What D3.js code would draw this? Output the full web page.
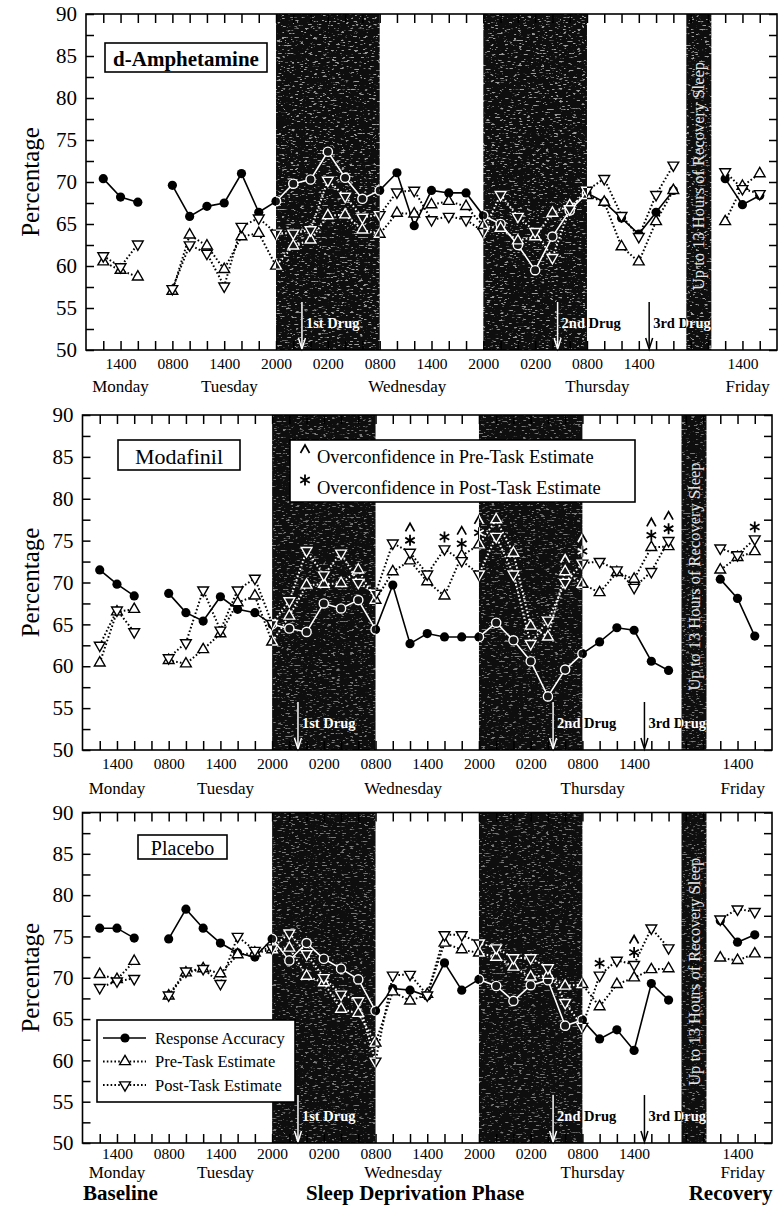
<!DOCTYPE html>
<html>
<head>
<meta charset="utf-8">
<script src="https://cdn.jsdelivr.net/npm/d3@7/dist/d3.min.js"></script>
<style>
body{margin:0;background:#fff;}
text{font-family:"Liberation Serif","Times New Roman",serif;}
</style>
</head>
<body>
<script>
(function(){

//test session slots along the x axis (2 hour steps, baseline nights left out)
var slots = [1,2,3,5,6,7,8,9,10,11,12,13,14,15,16,17,18,19,20,21,22,23,24,25,26,27,28,29,30,31,32,33,34,37,38,39];

//clock tick labels
var tickSlots = [2,5,8,11,14,17,20,23,26,29,32,38];
var tickText = ["1400","0800","1400","2000","0200","0800","1400","2000","0200","0800","1400","1400"];

//day labels
var dayNames = ["Monday","Tuesday","Wednesday","Thursday","Friday"];
var daySlots = [2, 8.3, 18.6, 29.6, 38.3];

//phase labels under the last panel
var phaseNames = ["Baseline","Sleep Deprivation Phase","Recovery"];
var phaseSlots = [2.2, 19.3, 37.6];

//dark periods
var nightSpans = [[11,17],[23,29]];
var recoverySpan = [34.75,36.2];
var recoveryText = "Up to 13 Hours of Recovery Sleep";

//drug doses
var drugNames = ["1st Drug","2nd Drug","3rd Drug"];
var drugSlots = [12.5, 27.3, 32.6];

//d-amphetamine group
var ampAccuracy = [70.4,68.2,67.6, 69.6,65.9,67.1,67.5,71.0,66.4,67.7,69.8,70.3,73.6,70.5,68.0,69.0,71.1,64.8,69.0,68.7,68.7,66.0,65.0,62.5,59.5,63.5,66.6,68.7,67.6,65.7,63.8,66.4,69.0, 70.4,67.3,68.4];
var ampPre = [60.5,59.5,58.7, 57.0,63.7,62.4,59.6,63.5,63.9,60.0,62.4,63.1,66.0,66.1,64.3,63.8,66.3,66.2,67.3,67.7,67.1,64.8,64.5,63.0,63.5,66.3,67.2,68.4,67.6,62.3,60.5,65.3,69.0, 65.3,69.5,71.0];
var ampPost = [61.2,59.9,62.6, 57.3,62.5,61.5,57.6,64.7,65.7,63.9,63.9,64.3,70.2,68.3,65.8,66.1,68.8,69.0,65.5,65.9,65.5,64.1,68.5,65.9,64.1,61.0,66.8,69.0,70.4,66.0,63.5,68.5,72.0, 71.2,69.2,68.6];
var ampPreOver = [];
var ampPostOver = [];

//modafinil group
var modAccuracy = [71.5,69.8,68.4, 68.7,66.4,65.4,68.3,66.8,66.4,65.0,64.5,64.1,67.5,66.9,67.9,64.4,69.7,62.7,63.9,63.5,63.5,63.5,65.2,63.1,60.6,56.4,59.6,61.5,62.9,64.6,64.3,60.6,59.5, 70.4,68.1,63.6];
var modPre = [60.4,66.5,66.8, 60.7,60.3,62.0,63.9,67.6,68.4,62.9,66.0,69.7,69.8,69.9,71.5,67.9,71.3,72.6,70.1,68.4,73.2,74.5,77.5,73.5,64.8,63.5,71.3,69.8,68.8,71.2,70.4,74.2,74.3, 71.5,73.0,73.7];
var modPost = [62.5,66.7,64.1, 61.0,62.8,69.1,64.3,69.1,70.5,65.1,67.8,73.8,70.9,73.5,70.0,68.7,74.7,73.6,71.0,74.0,72.6,71.0,75.5,71.0,62.7,65.5,70.0,72.3,72.5,71.5,69.4,71.3,75.0, 74.1,73.3,75.2];
var modPreOver = [19,22,23,28,29,33,34];
var modPostOver = [19,21,22,23,29,33,34,39];

//placebo group
var plaAccuracy = [76.0,76.0,74.8, 74.7,78.3,76.0,74.2,73.0,72.5,74.7,72.1,74.2,72.3,71.1,69.8,66.0,68.7,68.5,67.8,71.8,68.5,69.8,69.0,67.2,69.1,69.7,64.2,64.9,62.6,63.7,61.2,69.3,67.3, 76.9,74.3,75.2];
var plaPre = [70.4,69.8,72.0, 67.8,70.6,71.1,70.5,72.8,73.0,73.4,73.6,70.2,69.4,66.2,65.7,62.1,68.3,67.2,68.0,74.2,73.4,73.0,72.5,71.3,70.1,70.3,69.0,69.2,66.5,69.2,70.0,71.0,71.1, 72.4,72.1,72.9];
var plaPost = [68.8,69.6,69.9, 67.9,70.8,71.1,69.3,75.0,73.3,73.6,75.4,72.9,70.0,68.0,67.2,59.9,70.3,70.4,67.9,75.2,75.2,74.2,73.6,72.4,72.4,71.2,67.0,64.1,70.3,72.1,71.6,76.0,73.6, 77.1,78.3,78.0];
var plaPreOver = [32];
var plaPostOver = [30,32];

var seriesNames = ["Response Accuracy","Pre-Task Estimate","Post-Task Estimate"];
var overNames = ["Overconfidence in Pre-Task Estimate","Overconfidence in Post-Task Estimate"];

//panel layout
var panels = [
    {name:"d-Amphetamine", bold:true, acc:ampAccuracy, pre:ampPre, post:ampPost, preOver:ampPreOver, postOver:ampPostOver,
     left:86, right:777, top:14, bottom:350, box:[105,43,162,29], fs:21, dayY:392, tickPad:8},
    {name:"Modafinil", bold:false, acc:modAccuracy, pre:modPre, post:modPost, preOver:modPreOver, postOver:modPostOver,
     left:82.5, right:772, top:415, bottom:750, box:[118,440,122,30], fs:22, dayY:794, tickPad:8, overLegend:true},
    {name:"Placebo", bold:false, acc:plaAccuracy, pre:plaPre, post:plaPost, preOver:plaPreOver, postOver:plaPostOver,
     left:82.5, right:772, top:812.5, bottom:1143, box:[138,835,89,24], fs:20, dayY:1178, tickPad:5, legend:true, phases:true}
];

var svg = d3.select("body")
    .append("svg")
    .attr("width", 778)
    .attr("height", 1207);

var defs = svg.append("defs");

//speckle texture for the dark bands
var filter = defs.append("filter")
    .attr("id", "speck")
    .attr("x", 0).attr("y", 0).attr("width", 1).attr("height", 1);
filter.append("feTurbulence")
    .attr("type", "fractalNoise")
    .attr("baseFrequency", "0.22 0.75")
    .attr("numOctaves", 2)
    .attr("seed", 7);
filter.append("feColorMatrix")
    .attr("type", "matrix")
    .attr("values", "0 0 0 0 1  0 0 0 0 1  0 0 0 0 1  10 0 0 0 -6.1");

var triangle = d3.symbol().type(d3.symbolTriangle).size(50)();

panels.forEach(function(p, i){ drawPanel(p, i); });

function toPoints(vals){
    var pts = [];
    slots.forEach(function(s, i){
        if (vals[i] != null) pts.push({s:s, v:vals[i]});
    });
    return pts;
};

//split a series where sessions are not consecutive
function segments(pts){
    var segs = [], cur = [];
    pts.forEach(function(d, i){
        if (i > 0 && d.s - pts[i-1].s > 1){ segs.push(cur); cur = []; }
        cur.push(d);
    });
    segs.push(cur);
    return segs;
};

function drawPanel(p, idx){
    var x = d3.scaleLinear().domain([0, 40]).range([p.left, p.right]);
    var y = d3.scaleLinear().domain([50, 90]).range([p.bottom, p.top]);
    var g = svg.append("g");

    var shades = nightSpans.concat([recoverySpan]);

    //clip for the white overprint inside dark bands
    var clip = defs.append("clipPath").attr("id", "clip" + idx);
    shades.forEach(function(s){
        clip.append("rect")
            .attr("x", x(s[0])).attr("y", p.top)
            .attr("width", x(s[1]) - x(s[0])).attr("height", p.bottom - p.top);
    });

    //dark bands
    shades.forEach(function(s){
        g.append("rect")
            .attr("x", x(s[0])).attr("y", p.top)
            .attr("width", x(s[1]) - x(s[0])).attr("height", p.bottom - p.top)
            .attr("fill", "#0e0e0e");
        g.append("rect")
            .attr("x", x(s[0])).attr("y", p.top)
            .attr("width", x(s[1]) - x(s[0])).attr("height", p.bottom - p.top)
            .attr("filter", "url(#speck)")
            .attr("opacity", idx == 0 ? 0.6 : 0.45);
    });

    //inward ticks on all four sides
    var yMinor = d3.range(50, 90.1, 2.5);
    var xMinor = d3.range(1, 40);
    g.append("g").attr("transform", "translate(" + p.left + ",0)")
        .call(d3.axisRight(y).tickValues(yMinor).tickSize(8).tickFormat(""));
    g.append("g").attr("transform", "translate(" + p.right + ",0)")
        .call(d3.axisLeft(y).tickValues(yMinor).tickSize(8).tickFormat(""));
    g.append("g").attr("transform", "translate(0," + p.bottom + ")")
        .call(d3.axisTop(x).tickValues(xMinor).tickSize(9).tickFormat(""));
    g.append("g").attr("transform", "translate(0," + p.top + ")")
        .call(d3.axisBottom(x).tickValues(xMinor).tickSize(9).tickFormat(""));
    g.selectAll(".domain").remove();
    g.selectAll(".tick line").attr("stroke", "#000").attr("stroke-width", 1.5);

    //y labels
    var yl = g.append("g").attr("transform", "translate(" + p.left + ",0)")
        .call(d3.axisLeft(y).tickValues(d3.range(50, 91, 5)).tickSize(0).tickPadding(9));
    yl.select(".domain").remove();
    yl.selectAll("text").attr("font-family", "Liberation Serif").attr("font-size", 21).attr("fill", "#000");

    //clock labels
    var xl = g.append("g").attr("transform", "translate(0," + p.bottom + ")")
        .call(d3.axisBottom(x).tickValues(tickSlots).tickSize(0).tickPadding(p.tickPad)
            .tickFormat(function(d, i){ return tickText[i]; }));
    xl.select(".domain").remove();
    xl.selectAll("text").attr("font-family", "Liberation Serif").attr("font-size", 15.5).attr("fill", "#000");

    //day labels
    g.selectAll(".day").data(dayNames).enter().append("text")
        .attr("x", function(d, i){ return x(daySlots[i]); })
        .attr("y", p.dayY)
        .attr("text-anchor", "middle")
        .attr("font-size", 17)
        .text(function(d){ return d; });

    if (p.phases){
        g.selectAll(".phase").data(phaseNames).enter().append("text")
            .attr("x", function(d, i){ return x(phaseSlots[i]); })
            .attr("y", 1200)
            .attr("text-anchor", "middle")
            .attr("font-size", 21)
            .attr("font-weight", "bold")
            .text(function(d){ return d; });
    }

    //axis title
    g.append("text")
        .attr("transform", "translate(30," + ((p.top + p.bottom) / 2) + ") rotate(-90)")
        .attr("text-anchor", "middle")
        .attr("dominant-baseline", "central")
        .attr("font-size", 25)
        .text("Percentage");

    //recovery sleep label
    var rc = (x(recoverySpan[0]) + x(recoverySpan[1])) / 2;
    g.append("text")
        .attr("transform", "translate(" + rc + "," + ((p.top + p.bottom) / 2 - 6) + ") rotate(-90)")
        .attr("text-anchor", "middle")
        .attr("dominant-baseline", "central")
        .attr("font-size", 16.5)
        .attr("fill", "#e6e6e6")
        .text(recoveryText);

    //data, once in black and once in white inside the dark bands
    drawContent(g.append("g"), p, x, y, false);
    drawContent(g.append("g").attr("clip-path", "url(#clip" + idx + ")"), p, x, y, true);

    //plot frame
    g.append("rect")
        .attr("x", p.left).attr("y", p.top)
        .attr("width", p.right - p.left).attr("height", p.bottom - p.top)
        .attr("fill", "none").attr("stroke", "#000").attr("stroke-width", 1.6);

    //group name box
    var b = p.box;
    g.append("rect")
        .attr("x", b[0]).attr("y", b[1]).attr("width", b[2]).attr("height", b[3])
        .attr("fill", "#fff").attr("stroke", "#000").attr("stroke-width", 1.6);
    g.append("text")
        .attr("x", b[0] + b[2] / 2).attr("y", b[1] + b[3] / 2 + 1)
        .attr("text-anchor", "middle")
        .attr("dominant-baseline", "central")
        .attr("font-size", p.fs)
        .attr("font-weight", p.bold ? "bold" : "normal")
        .text(p.name);

    if (p.overLegend) drawOverLegend(g);
    if (p.legend) drawLegend(g);
};

function caretPath(cx, cy){
    return "M" + (cx - 4.5) + "," + (cy + 4) + "L" + cx + "," + (cy - 4) + "L" + (cx + 4.5) + "," + (cy + 4);
};

function starPath(cx, cy){
    var r = 5.5, s = "";
    [90, 30, 150].forEach(function(a){
        var dx = r * Math.cos(a * Math.PI / 180), dy = r * Math.sin(a * Math.PI / 180);
        s += "M" + (cx - dx) + "," + (cy - dy) + "L" + (cx + dx) + "," + (cy + dy);
    });
    return s;
};

function drawContent(g, p, x, y, dark){
    var ink = dark ? "#fff" : "#000";
    var paper = dark ? "#151515" : "#fff";
    var line = d3.line().x(function(d){ return x(d.s); }).y(function(d){ return y(d.v); });

    var acc = toPoints(p.acc), pre = toPoints(p.pre), post = toPoints(p.post);

    //dotted estimate lines
    [pre, post].forEach(function(pts){
        g.selectAll(null).data(segments(pts)).enter().append("path")
            .attr("d", line)
            .attr("fill", "none")
            .attr("stroke", ink)
            .attr("stroke-width", 2)
            .attr("stroke-dasharray", "1.6,2.2");
    });

    //solid accuracy line
    g.selectAll(null).data(segments(acc)).enter().append("path")
        .attr("d", line)
        .attr("fill", "none")
        .attr("stroke", ink)
        .attr("stroke-width", 1.6);

    g.selectAll(null).data(acc).enter().append("circle")
        .attr("cx", function(d){ return x(d.s); })
        .attr("cy", function(d){ return y(d.v); })
        .attr("r", 4.6)
        .attr("fill", dark ? paper : "#000")
        .attr("stroke", ink)
        .attr("stroke-width", dark ? 1.4 : 0);

    g.selectAll(null).data(pre).enter().append("path")
        .attr("d", triangle)
        .attr("transform", function(d){ return "translate(" + x(d.s) + "," + y(d.v) + ")"; })
        .attr("fill", paper).attr("stroke", ink).attr("stroke-width", 1.4);

    g.selectAll(null).data(post).enter().append("path")
        .attr("d", triangle)
        .attr("transform", function(d){ return "translate(" + x(d.s) + "," + y(d.v) + ") rotate(180)"; })
        .attr("fill", paper).attr("stroke", ink).attr("stroke-width", 1.4);

    //overconfidence marks above the highest marker of the session
    function topOf(s){
        var i = slots.indexOf(s);
        return y(d3.max([p.acc[i], p.pre[i], p.post[i]]));
    };
    p.postOver.forEach(function(s){
        g.append("path").attr("d", starPath(x(s), topOf(s) - 12))
            .attr("stroke", ink).attr("stroke-width", 1.8).attr("fill", "none");
    });
    p.preOver.forEach(function(s){
        var off = p.postOver.indexOf(s) >= 0 ? 25 : 13;
        g.append("path").attr("d", caretPath(x(s), topOf(s) - off))
            .attr("stroke", ink).attr("stroke-width", 1.7).attr("fill", "none");
    });

    //drug arrows
    drugSlots.forEach(function(s, i){
        var ax = x(s);
        g.append("line")
            .attr("x1", ax).attr("x2", ax)
            .attr("y1", p.bottom - 48).attr("y2", p.bottom - 4)
            .attr("stroke", ink).attr("stroke-width", 1.5);
        g.append("path")
            .attr("d", "M" + (ax - 3.5) + "," + (p.bottom - 12) + "L" + ax + "," + (p.bottom - 1) + "L" + (ax + 3.5) + "," + (p.bottom - 12))
            .attr("stroke", ink).attr("stroke-width", 1.5).attr("fill", "none");
        g.append("text")
            .attr("x", ax + 4).attr("y", p.bottom - 22)
            .attr("font-size", 14.5)
            .attr("font-weight", "bold")
            .attr("fill", ink)
            .text(drugNames[i]);
    });
};

//legend for the overconfidence marks
function drawOverLegend(g){
    g.append("rect")
        .attr("x", 290).attr("y", 440).attr("width", 345).attr("height", 62)
        .attr("fill", "#fff").attr("stroke", "#000").attr("stroke-width", 1.6);
    g.append("path").attr("d", caretPath(305, 449)).attr("stroke", "#000").attr("stroke-width", 1.7).attr("fill", "none");
    g.append("path").attr("d", starPath(305, 480)).attr("stroke", "#000").attr("stroke-width", 1.8).attr("fill", "none");
    g.selectAll(".ol").data(overNames).enter().append("text")
        .attr("x", 317)
        .attr("y", function(d, i){ return 463 + i * 31; })
        .attr("font-size", 18.5)
        .text(function(d){ return d; });
};

//series legend
function drawLegend(g){
    g.append("rect")
        .attr("x", 97).attr("y", 1020).attr("width", 198).attr("height", 82)
        .attr("fill", "#fff").attr("stroke", "#000").attr("stroke-width", 1.6);
    seriesNames.forEach(function(name, i){
        var ly = 1038 + i * 23.5;
        g.append("line")
            .attr("x1", 103).attr("x2", 146).attr("y1", ly).attr("y2", ly)
            .attr("stroke", "#000")
            .attr("stroke-width", i == 0 ? 1.4 : 1.8)
            .attr("stroke-dasharray", i == 0 ? null : "1.6,2.2");
        if (i == 0){
            g.append("circle").attr("cx", 125).attr("cy", ly).attr("r", 4.6).attr("fill", "#000");
        } else {
            g.append("path").attr("d", triangle)
                .attr("transform", "translate(125," + ly + ")" + (i == 2 ? " rotate(180)" : ""))
                .attr("fill", "#fff").attr("stroke", "#000").attr("stroke-width", 1.4);
        }
        g.append("text")
            .attr("x", 155).attr("y", ly)
            .attr("dominant-baseline", "central")
            .attr("font-size", 16.5)
            .text(name);
    });
};

})();
</script>
</body>
</html>
